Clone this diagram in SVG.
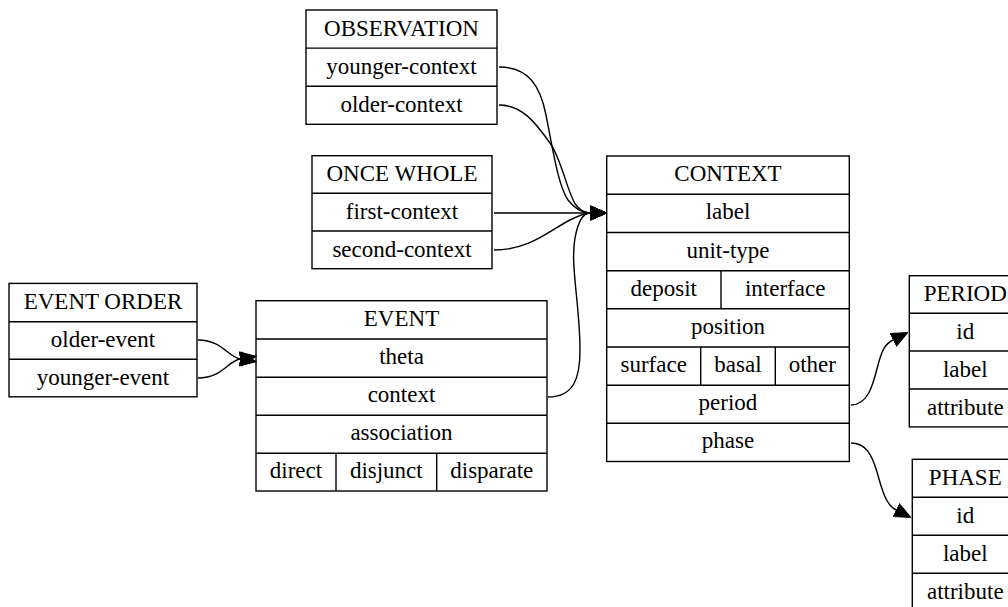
<svg xmlns="http://www.w3.org/2000/svg" width="1008" height="607" viewBox="0 0 1008 607">
<defs>
<style>
.box{fill:#fff;stroke:#000;stroke-width:1.4}
.ln{fill:none;stroke:#000;stroke-width:1.4}
.t{font-family:"Liberation Serif","Times New Roman",serif;font-size:23px;fill:#000;text-anchor:middle}
.e{fill:none;stroke:#000;stroke-width:1.4}
</style>
<marker id="arr" markerUnits="userSpaceOnUse" viewBox="0 0 17 16" refX="0" refY="8" markerWidth="17" markerHeight="16" orient="auto">
<path d="M0.5,1 L16.5,8 L0.5,15 z" fill="#000" stroke="#000" stroke-width="1"/>
</marker>
</defs>
<rect width="1008" height="607" fill="#fff"/>

<g id="observation">
<rect class="box" x="306" y="10" width="191" height="114.3"/>
<path class="ln" d="M306,48.1H497M306,86.2H497"/>
<text class="t" x="401.5" y="35.5">OBSERVATION</text>
<text class="t" x="401.5" y="73.5">younger-context</text>
<text class="t" x="401.5" y="111.5">older-context</text>
</g>

<g id="once-whole">
<rect class="box" x="312" y="155.7" width="180" height="113"/>
<path class="ln" d="M312,193.3H492M312,231H492"/>
<text class="t" x="402" y="181">ONCE WHOLE</text>
<text class="t" x="402" y="219">first-context</text>
<text class="t" x="402" y="256.5">second-context</text>
</g>

<g id="event-order">
<rect class="box" x="9" y="283.4" width="188" height="113.4"/>
<path class="ln" d="M9,321.7H197M9,359.3H197"/>
<text class="t" x="103" y="308.5">EVENT ORDER</text>
<text class="t" x="103" y="346.5">older-event</text>
<text class="t" x="103" y="384.5">younger-event</text>
</g>

<g id="event">
<rect class="box" x="256" y="300.7" width="291" height="190.3"/>
<path class="ln" d="M256,339H547M256,377.2H547M256,415.3H547M256,453.3H547M336,453.3V491M436.7,453.3V491"/>
<text class="t" x="401.5" y="326">EVENT</text>
<text class="t" x="401.5" y="364">theta</text>
<text class="t" x="401.5" y="402">context</text>
<text class="t" x="401.5" y="440">association</text>
<text class="t" x="296" y="478">direct</text>
<text class="t" x="386.3" y="478">disjunct</text>
<text class="t" x="491.8" y="478">disparate</text>
</g>

<g id="context">
<rect class="box" x="606.7" y="156" width="242.6" height="305.5"/>
<path class="ln" d="M606.7,194.3H849.3M606.7,232.5H849.3M606.7,270.7H849.3M606.7,308.8H849.3M606.7,347H849.3M606.7,385.2H849.3M606.7,423.3H849.3M721,270.7V308.8M700.7,347V385.2M775.3,347V385.2"/>
<text class="t" x="728" y="181">CONTEXT</text>
<text class="t" x="728" y="219">label</text>
<text class="t" x="728" y="257.5">unit-type</text>
<text class="t" x="663.8" y="295.5">deposit</text>
<text class="t" x="785.2" y="295.5">interface</text>
<text class="t" x="728" y="333.5">position</text>
<text class="t" x="653.7" y="372">surface</text>
<text class="t" x="738" y="372">basal</text>
<text class="t" x="812.3" y="372">other</text>
<text class="t" x="728" y="410">period</text>
<text class="t" x="728" y="448">phase</text>
</g>

<g id="period">
<rect class="box" x="909.3" y="275.7" width="112" height="151.2"/>
<path class="ln" d="M909.3,313.2H1021.3M909.3,351H1021.3M909.3,389H1021.3"/>
<text class="t" x="965.3" y="301">PERIOD</text>
<text class="t" x="965.3" y="339">id</text>
<text class="t" x="965.3" y="377">label</text>
<text class="t" x="965.3" y="415">attribute</text>
</g>

<g id="phase">
<rect class="box" x="912.3" y="459.3" width="106" height="152"/>
<path class="ln" d="M912.3,497.3H1018.3M912.3,535.3H1018.3M912.3,573.3H1018.3"/>
<text class="t" x="965.3" y="484.5">PHASE</text>
<text class="t" x="965.3" y="522.5">id</text>
<text class="t" x="965.3" y="560.5">label</text>
<text class="t" x="965.3" y="598.5">attribute</text>
</g>

<g id="connectors">
<path class="e" marker-end="url(#arr)" d="M499,67 C528,67 540,85 546,115 C553,150 558,185 568,200 C575,209 582,213 590,213"/>
<path class="e" marker-end="url(#arr)" d="M499,105 C522,105 535,122 550,143 C562,160 568,195 576,205 C580,210 584,213 590,213"/>
<path class="e" marker-end="url(#arr)" d="M494,213 L590,213"/>
<path class="e" marker-end="url(#arr)" d="M494,250 C530,250 550,230 570,220 C578,216 584,213 590,213"/>
<path class="e" marker-end="url(#arr)" d="M548,397 C574,397 580,378 580,350 C580,305 570,265 575,238 C578,222 583,213 590,213"/>
<path class="e" marker-end="url(#arr)" d="M198,340 C222,340 228,357 240,359"/>
<path class="e" marker-end="url(#arr)" d="M198,378 C222,378 228,361 240,359"/>
<path class="e" marker-end="url(#arr)" d="M851,405 C868,405 873,385 878,365 C882,350 885,344 893,340"/>
<path class="e" marker-end="url(#arr)" d="M851,443 C866,443 872,455 877,472 C882,490 886,505 896,510"/>
</g>
</svg>
